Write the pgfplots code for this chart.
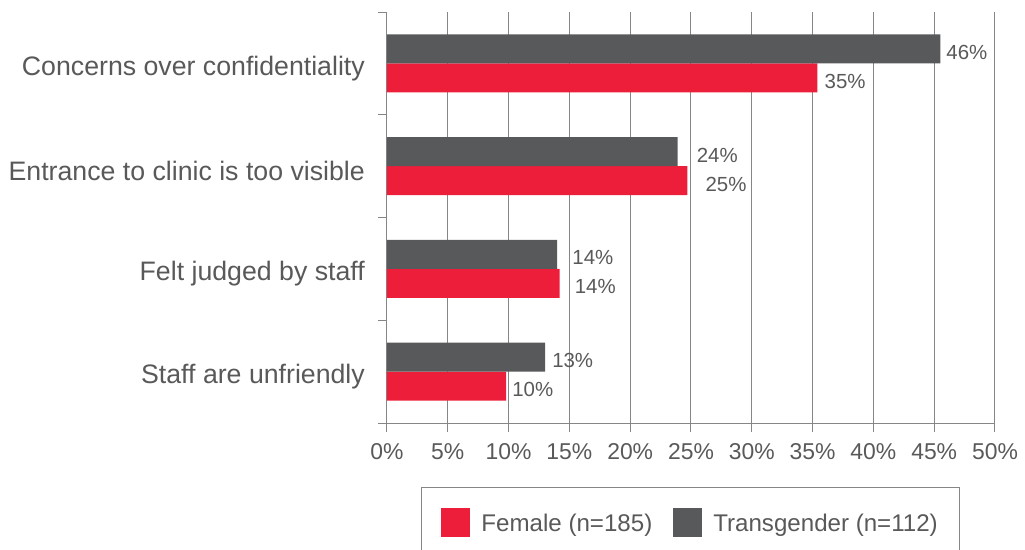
\documentclass[border=0pt]{standalone}
\usepackage{pgfplots}
\pgfplotsset{compat=1.18}
\usepackage{pgfplotstable}
\usepackage{fontspec}
\setmainfont{Liberation Sans}
\definecolor{fred}{RGB}{237,30,58}
\definecolor{tgray}{RGB}{88,89,91}
\definecolor{txt}{RGB}{89,89,89}
\definecolor{axg}{RGB}{134,134,134}

\pgfplotstableread{
x y lab off
35.4 3 35 7
24.7 2 25 18
14.2 1 14 15
9.8 0 10 6
}\female
\pgfplotstableread{
x y lab off
45.5 3 46 6
23.9 2 24 19
14.0 1 14 15
13.0 0 13 7
}\trans

\begin{document}
\begin{tikzpicture}
\begin{axis}[
 scale only axis, width=608bp, height=411bp, at={(0,0)}, anchor=south west,
 xmin=0, xmax=50, ymin=-0.5, ymax=3.5,
 axis x line=bottom, axis y line=left,
 axis line style={-, draw=axg, line width=1bp},
 xtick={0,5,...,50},
 xticklabels={0\%,5\%,10\%,15\%,20\%,25\%,30\%,35\%,40\%,45\%,50\%},
 ytick={0,1,2,3},
 yticklabels={Staff are unfriendly, Felt judged by staff, Entrance to clinic is too visible, Concerns over confidentiality},
 minor ytick={-0.5,0.5,1.5,2.5,3.5},
 tick align=outside,
 major tick length=9bp, minor tick length=9bp,
 tick style={draw=axg, line width=1bp},
 major y tick style={draw=none},
 xmajorgrids, grid style={draw=axg, line width=1bp},
 yticklabel style={font=\fontsize{26.8}{30}\selectfont, text=txt, anchor=east, inner sep=0pt, xshift=-13bp, yshift=-5bp},
 xticklabel style={font=\fontsize{23}{26}\selectfont, text=txt, anchor=north, inner sep=0pt, yshift=-11bp},
 /pgf/number format/assume math mode=true,
 xbar, bar width=29bp,
 point meta=explicit symbolic,
 nodes near coords={\pgfplotspointmeta\%},
 visualization depends on={\thisrow{off} \as \off},
 every node near coord/.append style={font=\fontsize{20.5}{24}\selectfont, text=txt, anchor=west, inner sep=0pt, xshift=\off bp, yshift=-3.5bp},
 legend style={at={(0.0559,-0.1557)}, anchor=north west, draw=axg, line width=1bp,
   legend columns=2, font=\fontsize{24.2}{28}\selectfont, text=txt,
   inner xsep=20bp, inner ysep=21bp,
   /tikz/every even column/.append style={column sep=19bp}},
 legend image code/.code={\fill[#1] (0bp,-14bp) rectangle (29bp,15bp); \path (38bp,0bp);},
]
\addplot[fill=fred, draw=none, bar shift=-14.5bp] table[x=x,y=y,meta=lab]{\female};
\addlegendentry{Female (n=185)}
\addplot[fill=tgray, draw=none, bar shift=14.5bp] table[x=x,y=y,meta=lab]{\trans};
\addlegendentry{Transgender (n=112)}
\end{axis}
\pgfresetboundingbox
\useasboundingbox (-387bp,-127bp) rectangle (638bp,423bp);
\end{tikzpicture}
\end{document}
